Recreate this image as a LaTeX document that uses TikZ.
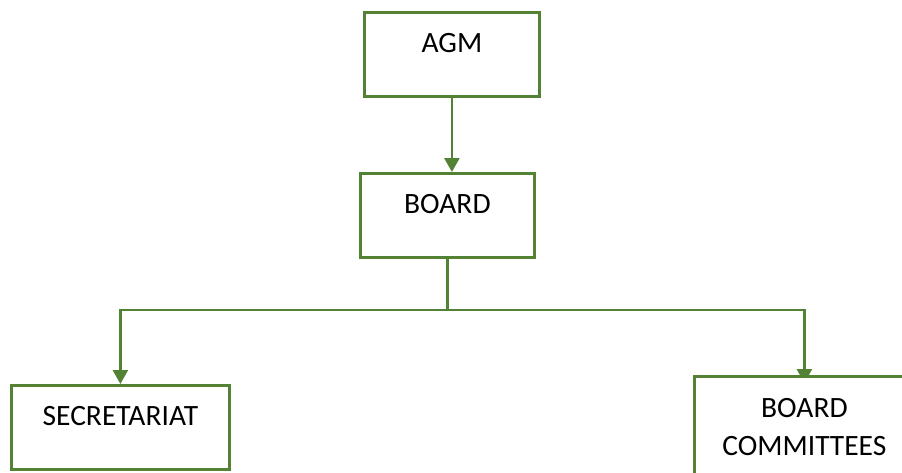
\documentclass[tikz,border=0pt]{standalone}
\usepackage{fontspec}
\setmainfont{Carlito}
\usetikzlibrary{arrows.meta, backgrounds}
\definecolor{boxgreen}{RGB}{84,130,53}

\tikzset{
  orgbox/.style={draw=boxgreen, line width=2.8pt, fill=white, inner sep=0pt,
    minimum height=84pt, text height=40pt, text depth=44pt, align=center,
    font=\fontsize{29.5}{38}\selectfont},
  orgline/.style={draw=boxgreen, line width=2.6pt},
  orgarrow/.style={orgline, -{Triangle[length=14pt,width=15pt]}}
}

\begin{document}
\begin{tikzpicture}[x=1pt,y=-1pt]
\clip (0,0) rectangle (902,472);

% boxes
\node[orgbox, minimum width=175pt, anchor=north west] (agm) at (363,11) {AGM};
\node[orgbox, minimum width=174pt, anchor=north west] (board) at (359,172) {BOARD};
\node[orgbox, minimum width=218pt, anchor=north west] (sec) at (10,384) {SECRETARIAT};
\node[orgbox, minimum width=220pt, anchor=north west, text height=79pt, text depth=26pt] (comm) at (693,375) {BOARD\\COMMITTEES};

% connectors
\begin{scope}[on background layer]
\draw[orgarrow] (agm.south) -- (agm.south |- board.north);
\draw[orgline] (board.south) -- ++(0,51) coordinate (bus);
\draw[orgarrow] (bus) -| (sec.north);
\draw[orgarrow, shorten >=-8pt] (bus) -| (comm.north);
\end{scope}

\end{tikzpicture}
\end{document}
